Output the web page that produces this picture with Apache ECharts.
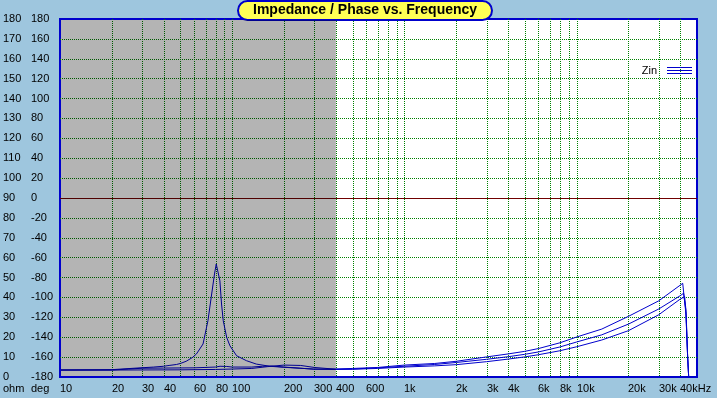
<!DOCTYPE html>
<html>
<head>
<meta charset="utf-8">
<script src="https://cdn.jsdelivr.net/npm/echarts@6/dist/echarts.min.js"></script>
<style>
html,body{margin:0;padding:0;background:#9EC6DE;}
#c{width:717px;height:398px;}
</style>
</head>
<body>
<div id="c"></div>
<script>
// ---- data ----
const freqA = [10,20,28,35,40,43,47.5,50,54,59,62,67.7,72.3,75.5,78.9,80.8,81.6,84.8,86.7,88.7,92.9,97,106,121,138,165,198,247,296,400,500,700,1000,1500,2000,3000,4000,5000,6000,8000,10000,14000,20000,30000,40000,41300,43200,44100,44700];
const zinA  = [3.5,3.7,4.5,5.0,5.4,5.8,6.3,6.8,7.9,9.9,11.6,16.6,28.3,40,51.8,56.8,57.1,48.4,36.7,28.3,19.9,15.7,10.7,8.2,6.5,5.4,4.9,4.4,4.0,4.0,4.3,4.8,6.0,6.8,7.9,10.1,11.6,12.9,14.3,17.2,20.1,24.1,30.5,38.3,46.2,47.1,31,10.7,0.6];

const freqB = [10,20,25,30,40,60,80,85,93,100,130,150,170,200,250,300,400,500,700,1000,1500,2000,3000,4000,5000,6000,8000,10000,14000,20000,30000,40000,41800,43000,44100,44700];
const zinB  = [3.5,3.5,4.0,4.4,4.5,4.6,5.0,5.4,5.3,5.0,5.0,5.4,5.5,5.0,4.4,3.9,3.8,4.0,4.6,5.4,6.3,7.3,8.9,10.2,11.4,12.6,15.1,17.6,21.2,26.6,34.2,40.9,42.1,34,10.7,0.6];

const freqC = [10,20,50,80,100,130,160,200,250,300,400,500,700,1000,1500,2000,3000,4000,5000,6000,8000,10000,14000,20000,30000,40000,42400,43200,44100,44700];
const zinC  = [3.5,3.5,3.6,3.8,4.0,4.3,5.2,6.0,5.8,4.8,3.9,3.9,4.3,5.0,5.6,6.2,7.7,9.0,10.1,11.2,13.2,15.2,18.6,23.3,31.3,39.2,40.4,33,10.7,0.6];

const tickFreqs  = [10,20,30,40,60,80,100,200,300,400,600,1000,2000,3000,4000,6000,8000,10000,20000,30000,40000];
const tickLabels = ['10','20','30','40','60','80','100','200','300','400','600','1k','2k','3k','4k','6k','8k','10k','20k','30k','40kHz'];
const gridFreqs  = [20,30,40,50,60,70,80,90,100,200,300,400,500,600,700,800,900,1000,2000,3000,4000,5000,6000,7000,8000,9000,10000,20000,30000,40000];
const shadedRange = [10, 400];
const freqRange = [10, 50000];
const ohmRange = [0, 180, 10];
const degRange = [-180, 180, 20];
const zeroPhase = 0;
const seriesName = 'Zin';
const titleText = 'Impedance / Phase vs. Frequency';

// ---- chart ----
const FONT = '"Liberation Sans", Arial, sans-serif';
const chart = echarts.init(document.getElementById('c'), null, {renderer: 'canvas'});

function pairs(fs, vs) { return fs.map((f, i) => [f, vs[i]]); }

const lineCommon = {
  type: 'line', name: seriesName, xAxisIndex: 0, yAxisIndex: 1,
  showSymbol: false, symbol: 'none', z: 2, clip: true, silent: true,
  lineStyle: {width: 1, color: '#0000CC'}, itemStyle: {color: '#0000CC'}
};

chart.setOption({
  animation: false,
  backgroundColor: '#9EC6DE',
  title: {
    text: titleText, left: 238, top: 1, padding: [1, 15, 1, 15],
    backgroundColor: '#FFFF55', borderColor: '#0000CC', borderWidth: 2, borderRadius: 10,
    textStyle: {fontFamily: FONT, fontWeight: 'bold', fontSize: 14, lineHeight: 17, color: '#000'}
  },
  legend: {
    data: [seriesName], right: 25, top: 65, padding: 0, align: 'right',
    itemWidth: 25, itemHeight: 7,
    icon: 'path://M0 0H25V1H0Z M0 3H25V4H0Z M0 6H25V7H0Z',
    textStyle: {color: '#000', fontSize: 11, fontFamily: FONT, padding: [6, 5, 0, 0]},
    selectedMode: false
  },
  grid: {
    left: 60, top: 19, width: 637, height: 358, show: true,
    backgroundColor: '#FFFFFF', borderColor: '#0000CC', borderWidth: 2
  },
  xAxis: {
    type: 'log', logBase: 10, min: freqRange[0], max: freqRange[1],
    axisLine: {show: false}, axisTick: {show: false}, axisLabel: {show: false}, splitLine: {show: false}
  },
  yAxis: [
    {
      type: 'value', min: degRange[0], max: degRange[1], interval: degRange[2], position: 'left',
      axisLine: {show: false}, axisTick: {show: false},
      splitLine: {show: true, showMinLine: false, showMaxLine: false, lineStyle: {color: '#008000', type: [1, 1], width: 1}},
      axisLabel: {color: '#000', fontSize: 11, fontFamily: FONT, align: 'left', margin: 29, padding: [0, 0, 6, 0], showMinLabel: true, showMaxLabel: true}
    },
    {
      type: 'value', min: ohmRange[0], max: ohmRange[1], interval: ohmRange[2], position: 'left',
      axisLine: {show: false}, axisTick: {show: false}, splitLine: {show: false},
      axisLabel: {color: '#000', fontSize: 11, fontFamily: FONT, align: 'left', margin: 57, padding: [0, 0, 6, 0], showMinLabel: true, showMaxLabel: true}
    }
  ],
  graphic: [
    {type: 'text', left: 3, top: 383, style: {text: 'ohm', fill: '#000', font: '11px ' + FONT}},
    {type: 'text', left: 31, top: 383, style: {text: 'deg', fill: '#000', font: '11px ' + FONT}}
  ],
  series: [
    // vertical log grid lines
    {
      type: 'custom', name: 'vgrid', xAxisIndex: 0, yAxisIndex: 1, z: 1, silent: true,
      data: gridFreqs.map(f => [f, 0]),
      renderItem: function (params, api) {
        const top = api.coord([api.value(0), ohmRange[1]]);
        const bot = api.coord([api.value(0), ohmRange[0]]);
        const x = Math.round(top[0]) + 0.5;
        return {type: 'line', shape: {x1: x, y1: top[1], x2: x, y2: bot[1]},
          style: {stroke: '#008000', lineWidth: 1, lineDash: [1, 1]}};
      }
    },
    // x tick labels
    {
      type: 'custom', name: 'xlabels', xAxisIndex: 0, yAxisIndex: 1, z: 1, silent: true,
      data: tickFreqs.map(f => [f, 0]),
      renderItem: function (params, api) {
        const p = api.coord([api.value(0), ohmRange[0]]);
        return {type: 'text', x: Math.round(p[0]), y: p[1] + 12,
          style: {text: tickLabels[params.dataIndex], fill: '#000', font: '11px ' + FONT, align: 'left', verticalAlign: 'middle'}};
      }
    },
    // zero-phase line
    {
      type: 'line', name: 'phase0', xAxisIndex: 0, yAxisIndex: 0, data: [], silent: true, z: 2,
      markLine: {
        z: 3, silent: true, symbol: 'none', label: {show: false},
        lineStyle: {color: '#700000', type: 'solid', width: 1},
        data: [{yAxis: zeroPhase}]
      }
    },
    Object.assign({}, lineCommon, {data: pairs(freqA, zinA)}),
    Object.assign({}, lineCommon, {data: pairs(freqB, zinB)}),
    Object.assign({}, lineCommon, {data: pairs(freqC, zinC)}),
    // shaded (greyed) frequency band
    {
      type: 'custom', name: 'shade', xAxisIndex: 0, yAxisIndex: 1, z: 6, silent: true,
      encode: {x: 0, y: 1},
      data: [[shadedRange[0], 0, shadedRange[1]]],
      renderItem: function (params, api) {
        const p1 = api.coord([api.value(0), ohmRange[1]]);
        const p2 = api.coord([api.value(2), ohmRange[0]]);
        return {type: 'rect', shape: {x: p1[0] + 1, y: p1[1] + 1, width: p2[0] - p1[0] - 1, height: p2[1] - p1[1] - 2},
          style: {fill: 'rgba(0,0,0,0.294)'}};
      }
    }
  ]
});
</script>
</body>
</html>
